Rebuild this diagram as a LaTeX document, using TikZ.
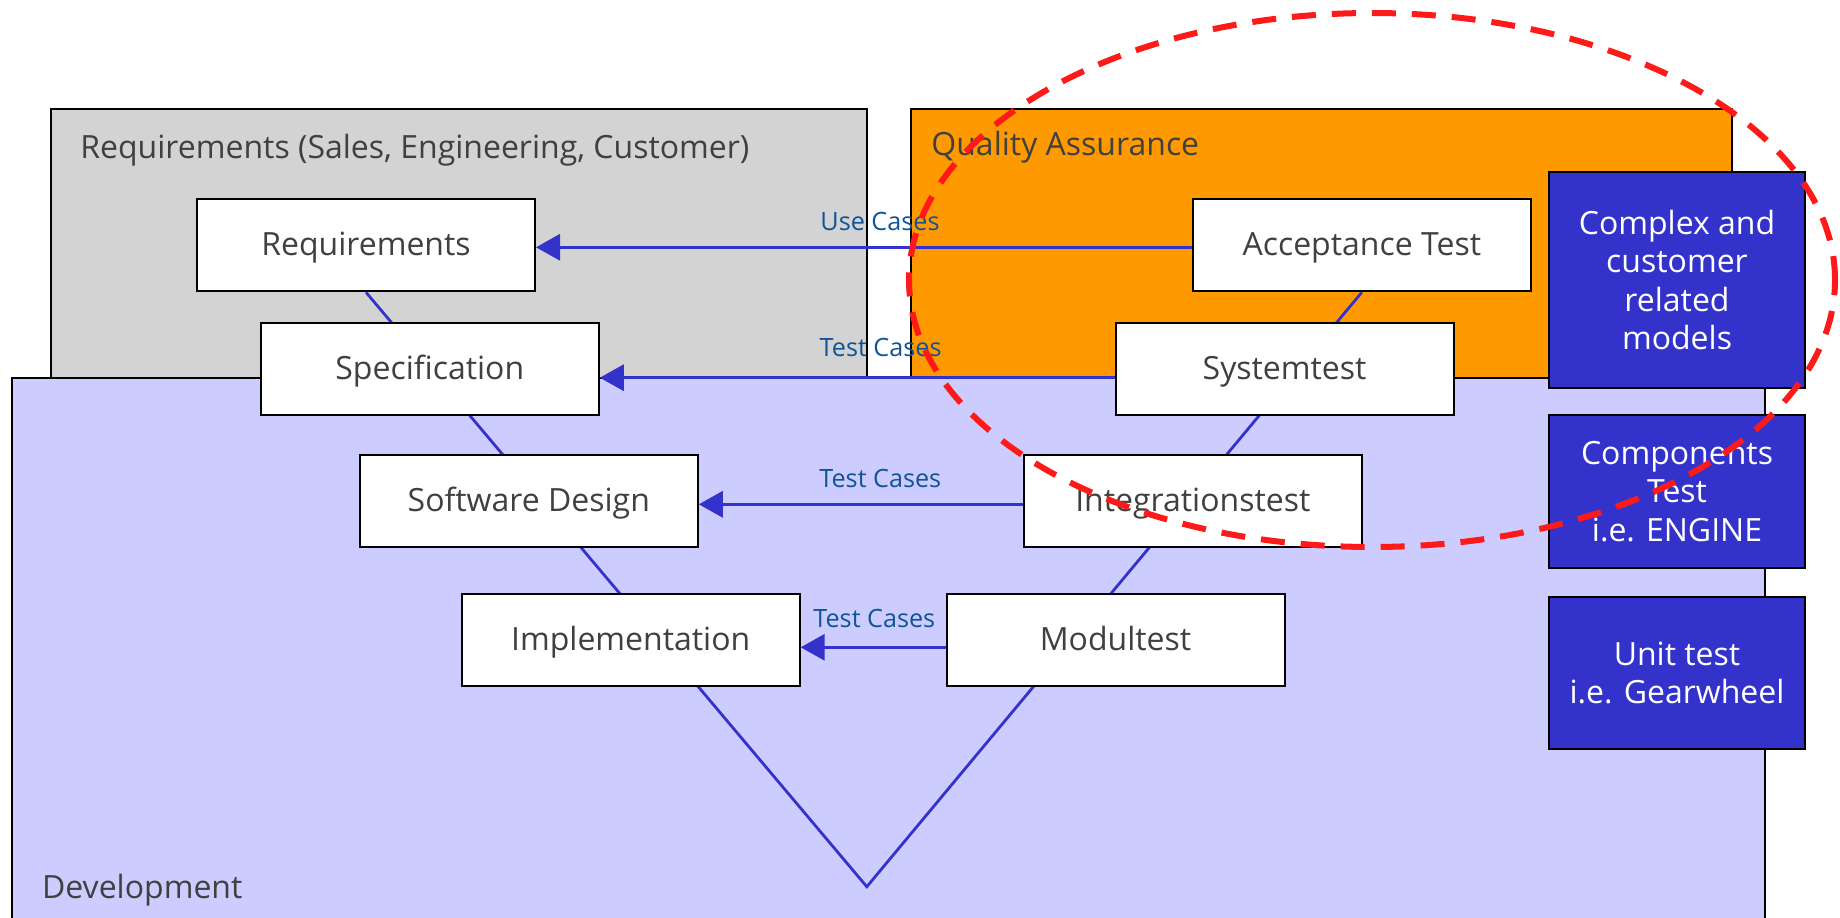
\documentclass[tikz,border=0pt]{standalone}
\usepackage{fontspec}
\setmainfont{Open Sans}
\usetikzlibrary{arrows.meta,shapes.geometric}
\definecolor{reqgray}{RGB}{211,211,211}
\definecolor{qaorange}{RGB}{255,153,0}
\definecolor{devlilac}{RGB}{204,204,255}
\definecolor{vblue}{RGB}{51,51,204}
\definecolor{txtgray}{RGB}{64,64,64}
\definecolor{lblblue}{RGB}{17,84,150}
\definecolor{ellred}{RGB}{255,25,25}
\pgfdeclarelayer{back}
\pgfsetlayers{back,main}
\begin{document}
\begin{tikzpicture}[x=0.5pt,y=-0.5pt,
  region/.style={draw=black,line width=1pt},
  stage/.style={draw=black,fill=white,line width=1pt,minimum width=169pt,minimum height=46pt,inner sep=0pt,text height=10.6pt,text depth=0pt,text=txtgray,font=\fontsize{16}{19}\selectfont},
  model/.style={draw=black,fill=vblue,line width=0.8pt,minimum width=128pt,inner sep=0pt,text=white,align=center,font=\fontsize{16}{19.2}\selectfont},
  title/.style={anchor=base west,inner sep=0pt,text=txtgray,font=\fontsize{16}{19}\selectfont},
  flowlabel/.style={anchor=base west,inner sep=0pt,text=lblblue,font=\fontsize{12.6}{15}\selectfont},
  flow/.style={draw=vblue,line width=1.65pt,-{Triangle[length=12pt,width=13pt]}},
  vline/.style={draw=vblue,line width=1.4pt},
  focus/.style={draw=ellred,line width=3pt,dash pattern=on 12pt off 8pt,ellipse,inner sep=0pt,minimum width=463pt,minimum height=267pt}
]
\useasboundingbox (0,0) rectangle (1840,917);
\clip (0,0) rectangle (1840,917);
\begin{pgfonlayer}{back}
\draw[region,fill=reqgray] (51,109.3) rectangle (867.3,400);
\draw[region,fill=qaorange] (910.8,109.3) rectangle (1732,400);
\draw[region,fill=devlilac] (12.3,377.5) rectangle (1765,925);
\end{pgfonlayer}

\node[title] (reqtitle) at (80,158) {Requirements (Sales, Engineering, Customer)};
\node[title] (qatitle) at (931,155) {Quality Assurance};
\node[title] (devtitle) at (41.7,898) {Development};

\node[stage] (req) at (366,245.3) {Requirements};
\node[stage] (spec) at (429.8,369) {Specification};
\node[stage] (swd) at (528.8,501.2) {Software Design};
\node[stage] (impl) at (630.7,639.5) {Implementation};
\node[stage] (acc) at (1361.8,245.3) {Acceptance Test};
\node[stage] (syst) at (1284.6,369) {Systemtest};
\node[stage] (integ) at (1192.8,501.2) {Integrationstest};
\node[stage] (modt) at (1115.5,639.5) {Modultest};
\coordinate (vtx) at (866.8,886.7);

\begin{pgfonlayer}{back}
\draw[vline] (req.south) -- (vtx) -- (acc.south);
\end{pgfonlayer}

\draw[flow] ([yshift=-1pt]acc.west) -- ([yshift=-1pt]req.east);
\draw[flow] ([yshift=-4.35pt]syst.west) -- ([yshift=-4.35pt]spec.east);
\draw[flow] ([yshift=-1.55pt]integ.west) -- ([yshift=-1.55pt]swd.east);
\draw[flow] ([yshift=-3.9pt]modt.west) -- ([yshift=-3.9pt]impl.east);

\node[flowlabel] (lbluse) at (820,230.7) {Use Cases};
\node[flowlabel] (lbltc1) at (819.3,356.7) {Test Cases};
\node[flowlabel] (lbltc2) at (819,487.3) {Test Cases};
\node[flowlabel] (lbltc3) at (813,627.3) {Test Cases};

\node[model,minimum height=108pt] (complex) at (1677,280) {Complex and\\customer\\related\\models};
\node[model,minimum height=76.5pt] (comp) at (1677,491.5) {Components\\Test\\i.e. ENGINE};
\node[model,minimum height=76pt] (unit) at (1677,673) {Unit test\\i.e. Gearwheel};

\node[focus] (focusring) at (1372,280) {};
\end{tikzpicture}
\end{document}
